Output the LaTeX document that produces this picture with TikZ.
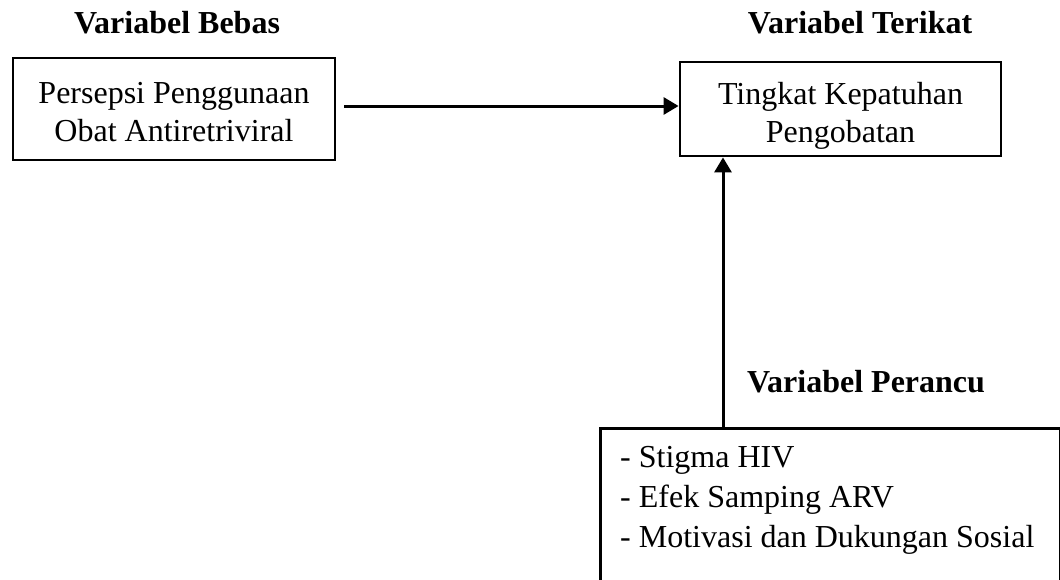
\documentclass[tikz,border=0pt]{standalone}
\usepackage{fontspec}
\setmainfont{Liberation Serif}
\usetikzlibrary{arrows.meta,calc}
\tikzset{
  frame/.style={draw=black, line width=2.8pt, rectangle, inner sep=0pt},
  boxtext/.style={inner sep=0pt, align=center, font=\fontsize{32}{38}\selectfont},
  head/.style={inner sep=0pt, font=\fontsize{32}{38}\selectfont\bfseries, anchor=base},
  arr/.style={line width=3pt, -{Triangle[length=15pt,width=17pt]}},
  plain/.style={inner sep=0pt, align=left, font=\fontsize{32}{40}\selectfont}
}
\begin{document}
\begin{tikzpicture}[x=1pt,y=-1pt]
\useasboundingbox (0,0) rectangle (1060,579);
\clip (0,0) rectangle (1060,579);
\fill[white] (0,0) rectangle (1060,579);
% headings
\node[head] (hb) at (177,33) {Variabel Bebas};
\node[head] (ht) at (860,33) {Variabel Terikat};
\node[head] (hp) at (866,392) {Variabel Perancu};
% boxes
\node[frame, minimum width=322pt, minimum height=102pt] (L) at (174,109) {};
\node[boxtext] (Lt) at (174,112) {Persepsi Penggunaan\\Obat Antiretriviral};
\node[frame, minimum width=321pt, minimum height=94pt] (T) at (840.5,109) {};
\node[boxtext] (Tt) at (840.5,116) {Tingkat Kepatuhan\\Pengobatan};
\node[frame, anchor=north west, minimum width=460pt, minimum height=200pt] (B) at (599,427) {};
\node[plain, anchor=north west] (Bt) at (620,446) {- Stigma HIV\\- Efek Samping ARV\\- Motivasi dan Dukungan Sosial};
% connectors
\draw[arr] ([xshift=8pt,yshift=3pt]L.east) -- ([yshift=3pt]T.west);
\coordinate (c) at (723,427);
\draw[arr] (c) -- (c |- T.south);
\end{tikzpicture}
\end{document}
